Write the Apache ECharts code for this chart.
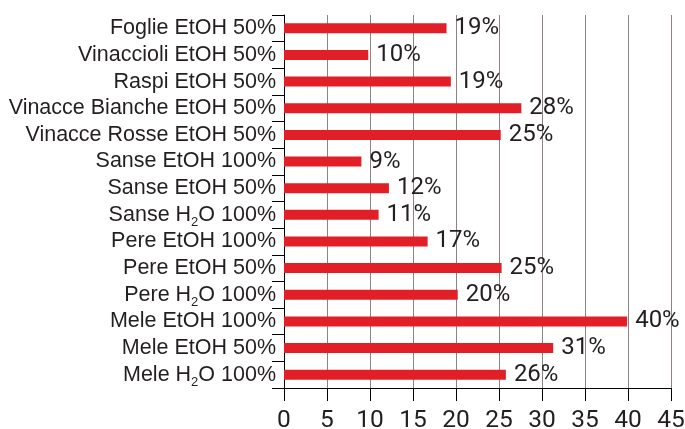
<!DOCTYPE html>
<html>
<head>
<meta charset="utf-8">
<script src="https://cdn.jsdelivr.net/npm/echarts@6/dist/echarts.min.js"></script>
<style>
html,body{margin:0;padding:0;background:#fff;}
#chart{width:685px;height:429px;}
</style>
</head>
<body>
<div id="chart"></div>
<script>
// Categories, top to bottom as shown in the reference
var categories = [
  "Foglie EtOH 50%",
  "Vinaccioli EtOH 50%",
  "Raspi EtOH 50%",
  "Vinacce Bianche EtOH 50%",
  "Vinacce Rosse EtOH 50%",
  "Sanse EtOH 100%",
  "Sanse EtOH 50%",
  "Sanse H₂O 100%",
  "Pere EtOH 100%",
  "Pere EtOH 50%",
  "Pere H₂O 100%",
  "Mele EtOH 100%",
  "Mele EtOH 50%",
  "Mele H₂O 100%"
];
// Bar lengths
var values = [18.9, 9.8, 19.4, 27.6, 25.2, 9.0, 12.2, 11.0, 16.7, 25.3, 20.2, 39.9, 31.3, 25.8];
// Printed value labels
var valueLabels = ["19%", "10%", "19%", "28%", "25%", "9%", "12%", "11%", "17%", "25%", "20%", "40%", "31%", "26%"];
// X axis ticks
var xMin = 0, xMax = 45, xStep = 5;

var chart = echarts.init(document.getElementById('chart'), null, {renderer: 'canvas'});
var textColor = '#231f20';
var numFont = 'Roboto, "Liberation Sans", sans-serif';
var catFont = '"Liberation Sans", Arial, sans-serif';

chart.setOption({
  animation: false,
  backgroundColor: '#ffffff',
  grid: {left: 284, top: 15, width: 387, height: 373, containLabel: false, outerBoundsMode: 'none'},
  xAxis: {
    type: 'value',
    min: xMin, max: xMax, interval: xStep,
    axisLine: {show: true, lineStyle: {color: '#000', width: 1}},
    axisTick: {show: true, length: 13, inside: false, lineStyle: {color: '#000', width: 1}},
    splitLine: {show: true, lineStyle: {color: '#8e8383', width: 1}},
    axisLabel: {color: textColor, fontFamily: numFont, fontSize: 24.5, margin: 20}
  },
  yAxis: {
    type: 'category',
    inverse: true,
    data: categories,
    axisLine: {show: true, lineStyle: {color: '#000', width: 1}},
    axisTick: {show: true, length: 12, alignWithLabel: false, lineStyle: {color: '#000', width: 1}},
    splitLine: {show: false},
    axisLabel: {
      interval: 0,
      color: textColor,
      fontFamily: catFont,
      fontSize: 21.5,
      margin: 8,
      formatter: function (v) { return v.replace('₂', '{sub|2}'); },
      rich: {
        sub: {fontSize: 13, color: textColor, fontFamily: catFont, verticalAlign: 'bottom', padding: [0, 0, -3, 0]}
      }
    }
  },
  series: [{
    type: 'bar',
    data: values,
    barWidth: 10,
    itemStyle: {color: '#e21f26'},
    label: {
      show: true,
      position: 'right',
      distance: 8,
      color: textColor,
      fontFamily: numFont,
      fontSize: 24,
      formatter: function (p) { return valueLabels[p.dataIndex]; }
    }
  }]
});
</script>
</body>
</html>
